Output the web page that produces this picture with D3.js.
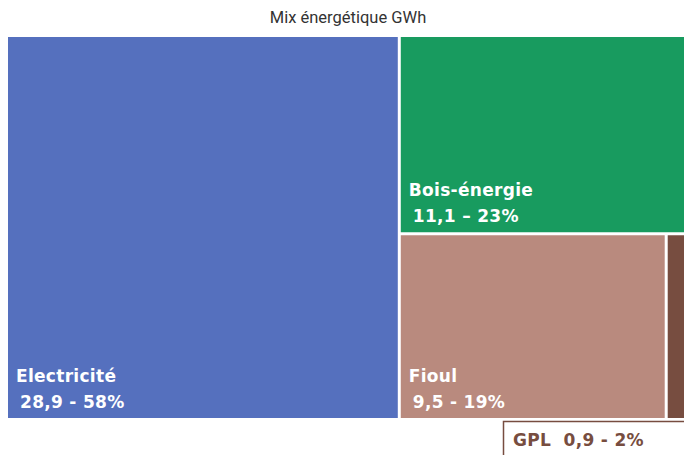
<!DOCTYPE html>
<html>
  <head>
    <meta http-equiv="content-type" content="text/html; charset=utf-8" />
    <title>Mix énergétique GWh</title>
    <script src="https://cdn.jsdelivr.net/npm/d3@7"></script>
    <style>
      body { margin: 0; background: #fff; overflow: hidden; }
    </style>
  </head>
  <body>
    <script>
// values (GWh) and the printed shares
      var categories = ["Electricité", "Bois-énergie", "Fioul", "GPL"];
      var values = [28.9, 11.1, 9.5, 0.9];
      var valueLabels = ["28,9 - 58%", "11,1 – 23%", "9,5 - 19%", "0,9 - 2%"];
      var colors = ["#5570BE", "#189B5F", "#B98A7E", "#774D40"];

      var w = 684, h = 455,
          marginLeft = 8, marginTop = 37,
          tw = 682, th = 381;

      var svg = d3.select("body").append("svg")
        .attr("width", w)
        .attr("height", h);

      svg.append("text")
        .attr("x", 348)
        .attr("y", 23)
        .attr("text-anchor", "middle")
        .attr("font-family", "Roboto, sans-serif")
        .attr("font-size", 16.5)
        .attr("fill", "#333")
        .text("Mix énergétique GWh");

      var data = categories.map(function(c, i) {
        return {name: c, value: values[i], label: valueLabels[i], color: colors[i]};
      });

// nest it like the picture: Electricité | (Bois / (Fioul | GPL))
      var tree = {children: [
        data[0],
        {children: [data[1], {children: [data[2], data[3]]}]}
      ]};

      var root = d3.hierarchy(tree)
        .sum(function(d) { return d.value || 0; });

      d3.treemap()
        .tile(d3.treemapSliceDice)
        .size([tw, th])
        .paddingInner(3)(root);

      var g = svg.append("g")
        .attr("transform", "translate(" + marginLeft + "," + marginTop + ")");

      var leaves = root.leaves();

      g.selectAll("rect")
        .data(leaves)
        .enter()
          .append("rect")
          .attr("x", function(d) { return d.x0; })
          .attr("y", function(d) { return d.y0; })
          .attr("width", function(d) { return d.x1 - d.x0; })
          .attr("height", function(d) { return d.y1 - d.y0; })
          .attr("fill", function(d) { return d.data.color; });

      var big = leaves.filter(function(d) { return d.data.name != "GPL"; });

      g.selectAll("text.name")
        .data(big)
        .enter()
          .append("text")
          .attr("class", "name")
          .attr("x", function(d) { return d.x0 + 8; })
          .attr("y", function(d) { return d.y1 - 36; })
          .attr("fill", "white")
          .attr("font-family", "DejaVu Sans, sans-serif")
          .attr("font-weight", "bold")
          .attr("font-size", 17)
          .attr("letter-spacing", 0.3)
          .text(function(d) { return d.data.name; });

      g.selectAll("text.val")
        .data(big)
        .enter()
          .append("text")
          .attr("class", "val")
          .attr("x", function(d) { return d.x0 + 12; })
          .attr("y", function(d) { return d.y1 - 10; })
          .attr("fill", "white")
          .attr("font-family", "DejaVu Sans, sans-serif")
          .attr("font-weight", "bold")
          .attr("font-size", 17)
          .attr("letter-spacing", 0.3)
          .text(function(d) { return d.data.label; });

      // the small slice gets its label in a box underneath
      var gpl = leaves.filter(function(d) { return d.data.name == "GPL"; })[0];

      svg.append("rect")
        .attr("x", 503.5)
        .attr("y", 421.5)
        .attr("width", 200)
        .attr("height", 50)
        .attr("fill", "white")
        .attr("stroke", gpl.data.color)
        .attr("stroke-width", 1.5);

      svg.append("text")
        .attr("x", 513)
        .attr("y", 446)
        .attr("fill", gpl.data.color)
        .attr("font-family", "DejaVu Sans, sans-serif")
        .attr("font-weight", "bold")
        .attr("font-size", 17)
        .attr("letter-spacing", 0.3)
        .attr("xml:space", "preserve")
        .text(gpl.data.name + "  " + gpl.data.label);
    </script>
  </body>
</html>
